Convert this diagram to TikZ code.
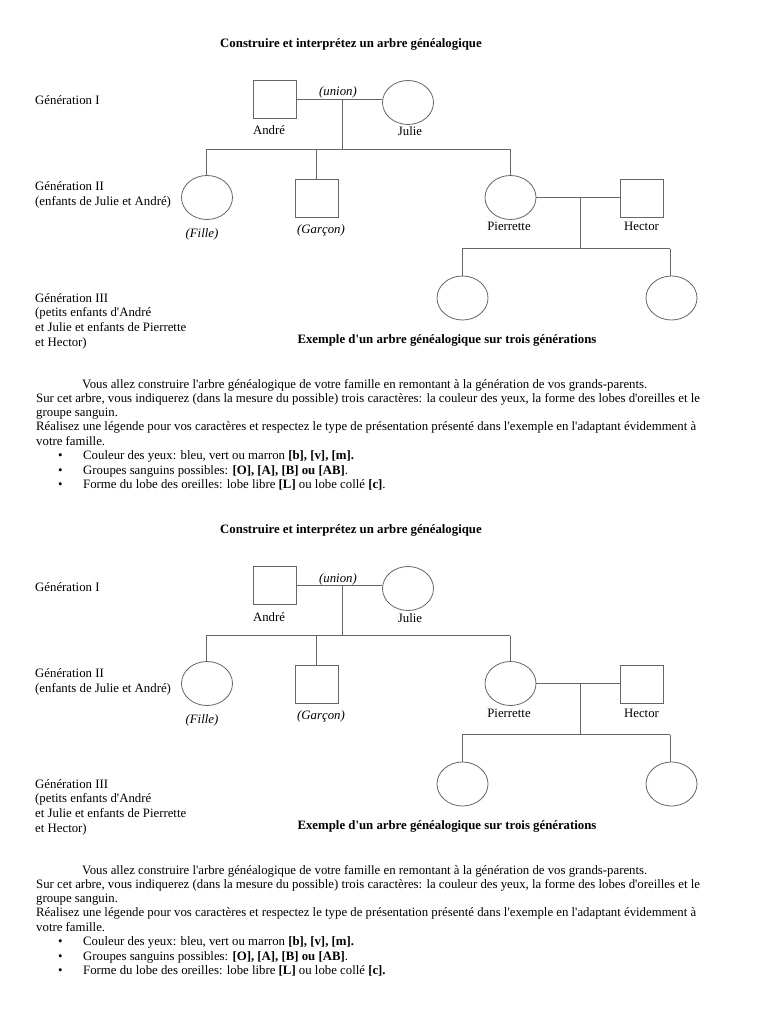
\documentclass[tikz,border=0pt]{standalone}
\usepackage{fontspec}
\newfontfamily\tnr{Liberation Serif}
\usetikzlibrary{shapes.geometric}
\tikzset{
  male/.style={draw=black!60, line width=0.8pt, rectangle, minimum width=43pt, minimum height=38pt, inner sep=0pt},
  female/.style={draw=black!60, line width=0.8pt, ellipse, minimum width=51pt, minimum height=44pt, inner sep=0pt},
  link/.style={draw=black!60, line width=0.8pt},
  txt/.style={anchor=base west, inner sep=0pt, font=\fontsize{12.8}{14}\tnr},
  ctxt/.style={anchor=base, inner sep=0pt, font=\fontsize{12.8}{14}\tnr},
  ttl/.style={anchor=base, inner sep=0pt, font=\fontsize{12.8}{14}\tnr\bfseries},
}
\newcommand{\arbre}[3]{%
\begin{scope}[shift={(0,#2)}]
  \node[ttl] (title#1) at (351,47.5) {Construire et interprétez un arbre généalogique};
  \node[txt] (gen1#1) at (35,105) {Génération I};
  \node[male] (andre#1) at (274.5,99.5) {};
  \node[female] (julie#1) at (408,102.5) {};
  \node[ctxt] (andrel#1) at (269,135) {André};
  \node[ctxt] (juliel#1) at (410,136) {Julie};
  \node[ctxt] (union#1) at (338,96) {\itshape (union)};
  \coordinate (u#1) at (342,99.5);
  \coordinate (s#1) at (342,149.5);
  \coordinate (sl#1) at (206,149.5);
  \coordinate (sr#1) at (510,149.5);
  \draw[link] (andre#1.east) -- (andre#1.east -| julie#1.west);
  \draw[link] (u#1) -- (s#1);
  \draw[link] (sl#1) -- (sr#1);
  \node[txt] (gen2#1) at (35,191) {Génération II};
  \node[txt] (gen2b#1) at (35,206) {(enfants de Julie et André)};
  \node[female] (fille#1) at (207,197.5) {};
  \node[male] (garcon#1) at (316.5,198) {};
  \node[female] (pierrette#1) at (510.5,197.5) {};
  \node[male] (hector#1) at (641.5,198) {};
  \draw[link] (sl#1) -- (sl#1 |- fille#1.north);
  \draw[link] (sl#1 -| garcon#1.north) -- (garcon#1.north);
  \draw[link] (sr#1) -- (sr#1 |- pierrette#1.north);
  \node[ctxt] (fillel#1) at (202,237) {\itshape (Fille)};
  \node[ctxt] (garconl#1) at (321,233.5) {\itshape (Garçon)};
  \node[ctxt] (pierrettel#1) at (509,231) {Pierrette};
  \node[ctxt] (hectorl#1) at (641.5,231) {Hector};
  \coordinate (v#1) at (580,197.5);
  \coordinate (w#1) at (580,248.5);
  \coordinate (wl#1) at (462,248.5);
  \coordinate (wr#1) at (670,248.5);
  \draw[link] (pierrette#1.east) -- (pierrette#1.east -| hector#1.west);
  \draw[link] (v#1) -- (w#1);
  \draw[link] (wl#1) -- (wr#1);
  \node[female] (pe1#1) at (462.5,298) {};
  \node[female] (pe2#1) at (671.5,298) {};
  \draw[link] (wl#1) -- (wl#1 |- pe1#1.north);
  \draw[link] (wr#1) -- (wr#1 |- pe2#1.north);
  \node[txt] (gen3#1) at (35,302) {Génération III};
  \node[txt] (gen3b#1) at (35,316) {(petits enfants d'André};
  \node[txt] (gen3c#1) at (35,331) {et Julie et enfants de Pierrette};
  \node[txt] (gen3d#1) at (35,346) {et Hector)};
  \node[ttl] (ex#1) at (447,343) {Exemple d'un arbre généalogique sur trois générations};
  \node[txt] (p1#1) at (82,388) {Vous allez construire l'arbre généalogique de votre famille en remontant à la génération de vos grands-parents.};
  \node[txt] (p2#1) at (36,402) {Sur cet arbre, vous indiquerez (dans la mesure du possible) trois caractères: la couleur des yeux, la forme des lobes d'oreilles et le};
  \node[txt] (p3#1) at (36,416) {groupe sanguin.};
  \node[txt] (p4#1) at (36,430.5) {Réalisez une légende pour vos caractères et respectez le type de présentation présenté dans l'exemple en l'adaptant évidemment à};
  \node[txt] (p5#1) at (36,445) {votre famille.};
  \node[txt] (b1#1) at (58,459.5) {•};
  \node[txt] (b2#1) at (58,474) {•};
  \node[txt] (b3#1) at (58,488) {•};
  \node[txt] (l1#1) at (83,459.5) {Couleur des yeux: bleu, vert ou marron \textbf{[b], [v], [m].}};
  \node[txt] (l2#1) at (83,474) {Groupes sanguins possibles: \textbf{[O], [A], [B] ou [AB]}.};
  \node[txt] (l3#1) at (83,488) {Forme du lobe des oreilles: lobe libre \textbf{[L]} ou lobe collé #3};
\end{scope}}
\begin{document}
\begin{tikzpicture}[x=1pt,y=-1pt]
\fill[white] (0,0) rectangle (768,1024);
\useasboundingbox (0,0) rectangle (768,1024);
\arbre{a}{0}{\textbf{[c]}.}
\arbre{b}{486}{\textbf{[c].}}
\end{tikzpicture}
\end{document}
